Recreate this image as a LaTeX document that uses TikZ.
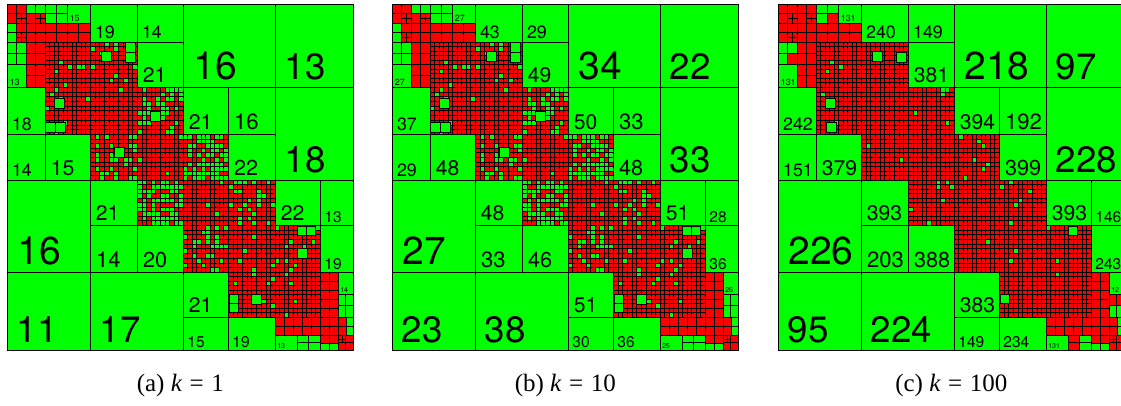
\documentclass[tikz,border=0pt]{standalone}
\usepackage{fontspec}
\setmainfont{Liberation Serif}
\newfontfamily\labfont{TeX Gyre Heros}
\definecolor{hgreen}{RGB}{0,255,0}
\definecolor{hred}{RGB}{255,0,0}
\tikzset{
  cellline/.style={black, line width=0.65pt},
  blkline/.style={black, line width=0.9pt},
  greenbox/.style={fill=hgreen, draw=black, line width=0.65pt},
  blklab/.style={anchor=base west, inner sep=0pt},
  capt/.style={anchor=base, font=\fontsize{25}{25}\selectfont},
}

% dense block: red, split in cells, some cells green
\newcommand\fineblk[7]{%
  \fill[hred] (#1,#4) rectangle (#2,#5);
  \pgfmathsetmacro\cw{(#2-#1)/#3}%
  \pgfmathsetmacro\ch{(#5-#4)/#6}%
  \foreach \i in {1,...,#3}{%
    \foreach \j in {1,...,#6}{%
      \pgfmathtruncatemacro\isg{rnd<#7*\pf}%
      \ifnum\isg=1
        \fill[hgreen] ({#1+(\i-1)*\cw},{#4+(\j-1)*\ch}) rectangle ++(\cw,\ch);
      \fi
    }%
  }%
  \foreach \i in {0,...,#3}{\draw[cellline] ({#1+\i*\cw},#4) -- ({#1+\i*\cw},#5);}%
  \foreach \j in {0,...,#6}{\draw[cellline] (#1,{#4+\j*\ch}) -- (#2,{#4+\j*\ch});}%
}
% block and its mirror block
\newcommand\fpair[7]{\fineblk{#1}{#2}{#3}{#4}{#5}{#6}{#7}\fineblk{#4}{#5}{#6}{#1}{#2}{#3}{#7}}
% small green block and its mirror (last arg: kept in panel c)
\newcommand\gpair[5]{%
  \pgfmathtruncatemacro\gshow{or(\pno<3,#5==1)}%
  \ifnum\gshow=1
    \draw[greenbox] (#1,#2) rectangle (#3,#4);
    \draw[greenbox] (#2,#1) rectangle (#4,#3);
  \fi}
% cell split in four
\newcommand\subx[4]{\draw[cellline] ({(#1+#3)/2},#2) -- ({(#1+#3)/2},#4) (#1,{(#2+#4)/2}) -- (#3,{(#2+#4)/2});}

% low rank blocks: x0/y0/x1/y1/rank a/rank b/rank c
\def\blklist{83/0/130/38/19/43/240, 130/0/176/38/14/29/149, 176/0/268/83/16/34/218,
  268/0/346/83/13/22/97, 130/38/176/83/21/49/381, 0/83/38/130/18/37/242,
  0/130/38/176/14/29/151, 38/130/83/176/15/48/379, 176/83/221/130/21/50/394,
  221/83/268/130/16/33/192, 221/130/268/176/22/48/399, 268/83/346/176/18/33/228,
  0/176/83/268/16/27/226, 83/176/130/221/21/48/393, 83/221/130/268/14/33/203,
  130/221/176/268/20/46/388, 0/268/83/346/11/23/95, 83/268/176/346/17/38/224,
  268/176/313/221/22/51/393, 313/176/346/221/13/28/146, 313/221/346/268/19/36/243,
  176/268/221/313/21/51/383, 176/313/221/346/15/30/149, 221/313/268/346/19/36/234,
  60/0/83/19/15/27/131, 0/60/19/83/13/27/131, 331/268/346/290/14/26/12,
  268/331/290/346/13/25/131}

\newcommand\hpanel[3]{% x offset, panel number, share of green cells
\begin{scope}[shift={(#1,4.3)}]
  \def\pno{#2}\def\pf{#3}
  \pgfmathsetseed{4242}
  \fill[hgreen] (0,0) rectangle (346,346);
  % near field, upper left
  \fineblk{0}{38}{4}{0}{38}{4}{0}
  \fpair{38}{60}{2}{0}{38}{4}{0}
  \fpair{60}{83}{2}{0}{38}{4}{0}
  \fineblk{38}{83}{10}{38}{83}{10}{0.03}
  \subx{9.5}{9.5}{19}{19}
  \subx{28.5}{9.5}{38}{19}
  \subx{9.5}{28.5}{19}{38}
  \gpair{19}{0}{28.5}{9.5}{0}
  \gpair{28.5}{0}{38}{9.5}{0}
  \gpair{38}{0}{49}{9.5}{1}
  \gpair{49}{0}{60}{9.5}{1}
  \gpair{38}{9.5}{49}{19}{1}
  \gpair{49}{9.5}{60}{19}{0}
  % near field along the diagonal
  \fpair{83}{130}{10}{38}{83}{10}{0.08}
  \fineblk{83}{130}{10}{83}{130}{10}{0.01}
  \fpair{130}{176}{10}{83}{130}{10}{0.27}
  \fineblk{130}{176}{10}{130}{176}{10}{0.04}
  \fpair{176}{221}{10}{130}{176}{10}{0.55}
  \fineblk{176}{221}{10}{176}{221}{10}{0.04}
  \fpair{221}{268}{10}{176}{221}{10}{0.25}
  \fineblk{221}{268}{10}{221}{268}{10}{0.03}
  \fpair{268}{313}{10}{221}{268}{10}{0.09}
  \fineblk{268}{313}{10}{268}{313}{10}{0.02}
  \gpair{94}{47}{104}{57}{1}
  \gpair{118}{38}{128}{48}{0}
  \gpair{118}{48}{128}{58}{1}
  \gpair{143}{107}{153}{117}{0}
  \gpair{290}{222}{299}{231}{1}
  \gpair{299}{222}{308}{231}{0}
  \gpair{290}{244}{300}{254}{0}
  % near field, lower right
  \fpair{313}{331}{2}{268}{313}{5}{0}
  \fineblk{313}{331}{2}{313}{331}{2}{0}
  \fpair{331}{339}{1}{313}{331}{2}{0}
  \fpair{331}{346}{2}{290}{313}{2}{0}
  \fineblk{331}{346}{2}{331}{346}{2}{0}
  \subx{331}{331}{338.5}{338.5}
  \gpair{339}{313}{346}{322}{1}
  \gpair{339}{322}{346}{331}{1}
  \gpair{331}{290}{338.5}{301.5}{0}
  \gpair{338.5}{290}{346}{301.5}{0}
  \gpair{331}{301.5}{338.5}{313}{1}
  \gpair{338.5}{301.5}{346}{313}{1}
  % far field blocks with their ranks
  \foreach \xa/\ya/\xb/\yb/\la/\lb/\lc [count=\n] in \blklist {
    \draw[blkline, fill=hgreen] (\xa,\ya) rectangle (\xb,\yb);
    \pgfmathsetmacro\s{min(\xb-\xa,\yb-\ya)}
    \pgfmathsetmacro\fs{0.47*\s}
    \node[blklab, font=\labfont\fontsize{\fs}{\fs}\selectfont] (l#2-\n)
      at ({\xa+0.12*\s},{\yb-0.1*\s}) {\ifcase#2\or\la\or\lb\or\lc\fi};
  }
  \draw[blkline] (0,0) rectangle (346,346);
\end{scope}}

\begin{document}
\begin{tikzpicture}[x=1pt, y=-1pt]
  \useasboundingbox (0,0) rectangle (1121,405);
  \hpanel{7.3}{1}{1}
  \hpanel{392.3}{2}{1}
  \hpanel{778.3}{3}{0.12}
  % captions
  \node[capt] (capa) at (180.3,391) {(a) \textit{k}\hspace{0.3em}=\hspace{0.3em}1};
  \node[capt] (capb) at (565.3,391) {(b) \textit{k}\hspace{0.3em}=\hspace{0.3em}10};
  \node[capt] (capc) at (951.3,391) {(c) \textit{k}\hspace{0.3em}=\hspace{0.3em}100};
\end{tikzpicture}
\end{document}
